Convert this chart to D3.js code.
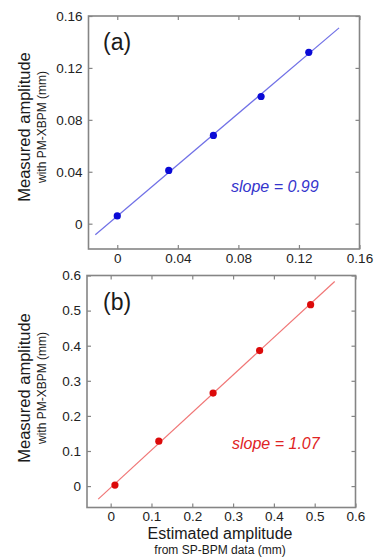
<!DOCTYPE html>
<html>
<head>
<meta charset="utf-8">
<script src="https://cdn.jsdelivr.net/npm/d3@7"></script>
<style>
  html, body { margin: 0; padding: 0; background: #fff; }
  svg { display: block; }
  text { font-family: "Liberation Sans", Arial, sans-serif; }
</style>
</head>
<body>
<div id="chart"></div>
<script>
// panel (a) data
var ticksA = [0, 0.04, 0.08, 0.12, 0.16];
var estA = [0.0, 0.034, 0.0635, 0.095, 0.1265];
var measA = [0.006, 0.041, 0.068, 0.098, 0.132];
var fitA = { slope: 0.99, intercept: 0.0058, from: -0.0145, to: 0.1465 };

// panel (b) data
var ticksB = [0, 0.1, 0.2, 0.3, 0.4, 0.5, 0.6];
var estB = [0.0105, 0.118, 0.251, 0.365, 0.49];
var measB = [0.003, 0.128, 0.265, 0.386, 0.517];
var fitB = { slope: 1.07, intercept: -0.0044, from: -0.0305, to: 0.549 };

var yTitle = 'Measured amplitude';
var ySub = 'with PM-XBPM (mm)';
var xTitle = 'Estimated amplitude';
var xSub = 'from SP-BPM data (mm)';

var svg = d3.select('#chart').append('svg')
  .attr('width', 374)
  .attr('height', 558)
  .attr('viewBox', '0 0 374 558');

var panelA = {
  left: 88.5, right: 359.5, top: 16, bottom: 249,
  xDomain: [-0.019, 0.16], yDomain: [-0.0195, 0.16],
  ticks: ticksA, fmt: function(d) { return d === 0 ? '0' : d3.format('.2f')(d); },
  est: estA, meas: measA, fit: fitA,
  tag: '(a)', tagY: 50,
  slopeText: 'slope = 0.99', slopeX: 231, slopeY: 192,
  dotColor: '#0a0ad6', lineColor: '#7070e6', textColor: '#3434cc',
  titleY: 127
};

var panelB = {
  left: 87, right: 355.5, top: 275.5, bottom: 507.5,
  xDomain: [-0.058, 0.6], yDomain: [-0.061, 0.6],
  ticks: ticksB, fmt: function(d) { return d === 0 ? '0' : d3.format('.1f')(d); },
  est: estB, meas: measB, fit: fitB,
  tag: '(b)', tagY: 310,
  slopeText: 'slope = 1.07', slopeX: 232, slopeY: 449,
  dotColor: '#dc0a0a', lineColor: '#f07676', textColor: '#e02424',
  titleY: 388
};

var drawPanel = function(p) {
  var x = d3.scaleLinear().domain(p.xDomain).range([p.left, p.right]);
  var y = d3.scaleLinear().domain(p.yDomain).range([p.bottom, p.top]);
  var g = svg.append('g');

  var styleAxis = function(sel) {
    sel.select('.domain').remove();
    sel.selectAll('line').attr('stroke', '#858585').attr('stroke-width', 1.2);
    sel.selectAll('text')
      .attr('fill', '#222')
      .style('font-family', '"Liberation Sans", Arial, sans-serif')
      .style('font-size', '13.5px');
  };

  g.append('g')
    .attr('transform', 'translate(0,' + p.bottom + ')')
    .call(d3.axisBottom(x).tickValues(p.ticks).tickFormat(p.fmt).tickSizeInner(-4).tickSizeOuter(0).tickPadding(4))
    .call(styleAxis);
  g.append('g')
    .attr('transform', 'translate(0,' + p.top + ')')
    .call(d3.axisTop(x).tickValues(p.ticks).tickFormat('').tickSizeInner(-4).tickSizeOuter(0))
    .call(styleAxis);
  g.append('g')
    .attr('transform', 'translate(' + p.left + ',0)')
    .call(d3.axisLeft(y).tickValues(p.ticks).tickFormat(p.fmt).tickSizeInner(-4).tickSizeOuter(0).tickPadding(6))
    .call(styleAxis);
  g.append('g')
    .attr('transform', 'translate(' + p.right + ',0)')
    .call(d3.axisRight(y).tickValues(p.ticks).tickFormat('').tickSizeInner(-4).tickSizeOuter(0))
    .call(styleAxis);

  // frame
  g.append('rect')
    .attr('x', p.left).attr('y', p.top)
    .attr('width', p.right - p.left).attr('height', p.bottom - p.top)
    .attr('fill', 'none')
    .attr('stroke', '#858585')
    .attr('stroke-width', 1.6);

  // fit line
  var fitPts = [p.fit.from, p.fit.to].map(function(v) { return [v, p.fit.slope * v + p.fit.intercept]; });
  g.append('path')
    .datum(fitPts)
    .attr('d', d3.line().x(function(d) { return x(d[0]); }).y(function(d) { return y(d[1]); }))
    .attr('fill', 'none')
    .attr('stroke', p.lineColor)
    .attr('stroke-width', 1.2);

  g.selectAll('circle.pt')
    .data(d3.zip(p.est, p.meas))
    .enter().append('circle')
    .attr('class', 'pt')
    .attr('cx', function(d) { return x(d[0]); })
    .attr('cy', function(d) { return y(d[1]); })
    .attr('r', 3.6)
    .attr('fill', p.dotColor);

  g.append('text')
    .attr('x', 103).attr('y', p.tagY)
    .attr('fill', '#1a1a1a')
    .style('font-size', '23px')
    .text(p.tag);

  g.append('text')
    .attr('x', p.slopeX).attr('y', p.slopeY)
    .attr('fill', p.textColor)
    .style('font-size', '16px')
    .style('font-style', 'italic')
    .text(p.slopeText);

  // y titles
  g.append('text')
    .attr('transform', 'translate(30,' + p.titleY + ')rotate(-90)')
    .attr('text-anchor', 'middle')
    .attr('fill', '#1a1a1a')
    .style('font-size', '16.5px')
    .text(yTitle);
  g.append('text')
    .attr('transform', 'translate(46,' + p.titleY + ')rotate(-90)')
    .attr('text-anchor', 'middle')
    .attr('fill', '#1a1a1a')
    .style('font-size', '12px')
    .text(ySub);
};

[panelA, panelB].forEach(drawPanel);

svg.append('text')
  .attr('x', 220).attr('y', 539)
  .attr('text-anchor', 'middle')
  .attr('fill', '#1a1a1a')
  .style('font-size', '16px')
  .text(xTitle);
svg.append('text')
  .attr('x', 220).attr('y', 554)
  .attr('text-anchor', 'middle')
  .attr('fill', '#1a1a1a')
  .style('font-size', '12px')
  .text(xSub);
</script>
</body>
</html>
